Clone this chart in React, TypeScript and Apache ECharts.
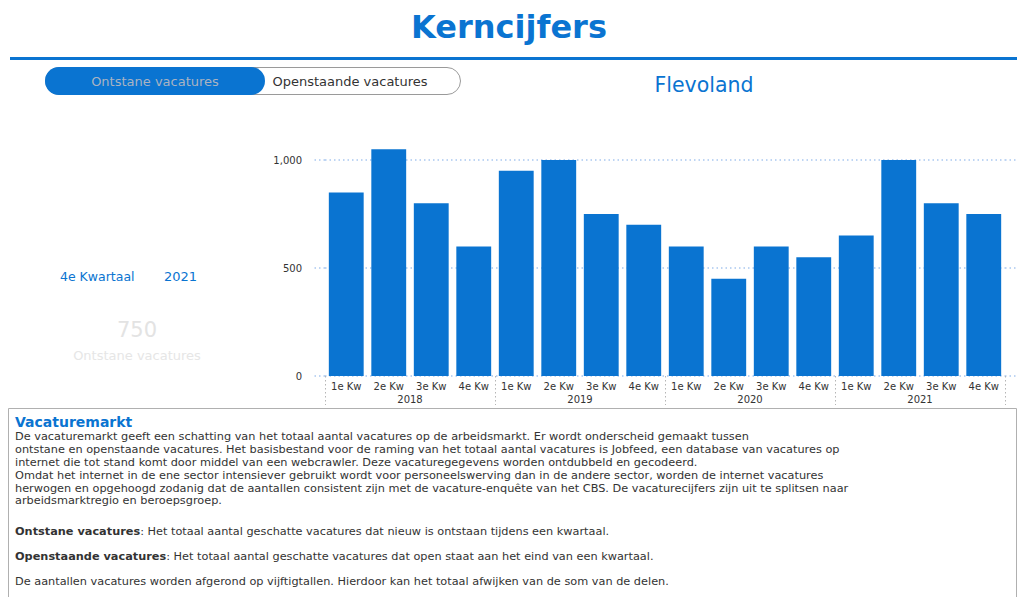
import React, { useEffect, useRef } from "react";
import * as echarts from "echarts";

const quarterLabels = [
  "1e Kw", "2e Kw", "3e Kw", "4e Kw",
  "1e Kw", "2e Kw", "3e Kw", "4e Kw",
  "1e Kw", "2e Kw", "3e Kw", "4e Kw",
  "1e Kw", "2e Kw", "3e Kw", "4e Kw",
];
const years = ["2018", "2019", "2020", "2021"];
const ontstaneVacatures = [850, 1050, 800, 600, 950, 1000, 750, 700, 600, 450, 600, 550, 650, 1000, 800, 750];
const yMin = 0;
const yMax = 1000;
const yInterval = 500;

const title = "Kerncijfers";
const region = "Flevoland";
const toggleLeft = "Ontstane vacatures";
const toggleRight = "Openstaande vacatures";
const periodLabel = "4e Kwartaal";
const periodYear = "2021";
const kpiValue = "750";
const kpiLabel = "Ontstane vacatures";
const infoHeading = "Vacaturemarkt";
const infoLines = [
  "De vacaturemarkt geeft een schatting van het totaal aantal vacatures op de arbeidsmarkt. Er wordt onderscheid gemaakt tussen",
  "ontstane en openstaande vacatures. Het basisbestand voor de raming van het totaal aantal vacatures is Jobfeed, een database van vacatures op",
  "internet die tot stand komt door middel van een webcrawler. Deze vacaturegegevens worden ontdubbeld en gecodeerd.",
  "Omdat het internet in de ene sector intensiever gebruikt wordt voor personeelswerving dan in de andere sector, worden de internet vacatures",
  "herwogen en opgehoogd zodanig dat de aantallen consistent zijn met de vacature-enquête van het CBS. De vacaturecijfers zijn uit te splitsen naar",
  "arbeidsmarktregio en beroepsgroep.",
];
const defOntstaan = ["Ontstane vacatures", ": Het totaal aantal geschatte vacatures dat nieuw is ontstaan tijdens een kwartaal."];
const defOpen = ["Openstaande vacatures", ": Het totaal aantal geschatte vacatures dat open staat aan het eind van een kwartaal."];
const noteLine = "De aantallen vacatures worden afgerond op vijftigtallen. Hierdoor kan het totaal afwijken van de som van de delen.";

const FONT = "DejaVu Sans";
const BLUE = "#0a74d1";
const GRIDC = "#a9c8ef";
const BODY = 11.3;

export default function App() {
  const ref = useRef<HTMLDivElement>(null);
  useEffect(() => {
    if (!ref.current) return;
    const chart = echarts.init(ref.current, null, { renderer: "svg" });
    const dotted = { type: [1.5, 3] as any, color: GRIDC, width: 1.5 };
    chart.setOption({
      animation: false,
      textStyle: { fontFamily: FONT },
      grid: { left: 325, right: 15, top: 160, bottom: 221 },
      xAxis: [
        {
          type: "category",
          data: quarterLabels,
          position: "bottom",
          axisLine: { show: false },
          axisTick: { show: false },
          axisLabel: { interval: 0, fontSize: 10, color: "#333", margin: 5, fontFamily: FONT },
          splitLine: { show: false },
        },
        {
          type: "category",
          data: years,
          position: "bottom",
          axisLine: { show: false },
          axisTick: {
            show: true,
            interval: 0,
            length: 29,
            lineStyle: { type: [1.5, 2.5], color: "#b5b5b5", width: 1 },
          },
          axisLabel: { interval: 0, fontSize: 10, color: "#333", margin: 18, fontFamily: FONT },
          splitLine: { show: false },
        },
      ],
      yAxis: [
        {
          type: "value",
          min: yMin,
          max: yMax,
          interval: yInterval,
          axisLine: { show: false },
          axisTick: { show: true, length: 13, lineStyle: dotted },
          splitLine: { show: true, lineStyle: dotted },
          axisLabel: { fontSize: 10, color: "#333", margin: 23, fontFamily: FONT },
        },
        {
          type: "value",
          position: "right",
          min: yMin,
          max: yMax,
          interval: yInterval,
          axisLine: { show: false },
          axisTick: { show: true, length: 12, lineStyle: dotted },
          splitLine: { show: false },
          axisLabel: { show: false },
        },
      ],
      series: [
        {
          type: "bar",
          data: ontstaneVacatures,
          xAxisIndex: 0,
          yAxisIndex: 0,
          barCategoryGap: "18%",
          clip: false,
          silent: true,
          itemStyle: { color: BLUE },
        },
      ],
      graphic: [
        {
          type: "text",
          x: 509,
          y: 27,
          style: {
            text: title,
            fontFamily: FONT,
            fontSize: 32,
            fontWeight: "bold",
            fill: BLUE,
            align: "center",
            verticalAlign: "middle",
          },
        },
        { type: "rect", shape: { x: 10, y: 57, width: 1007, height: 3 }, style: { fill: BLUE } },
        {
          type: "rect",
          shape: { x: 45.5, y: 67.5, width: 415, height: 27, r: 13.5 },
          style: { fill: "#fff", stroke: "#9a9a9a", lineWidth: 1 },
        },
        {
          type: "rect",
          shape: { x: 45, y: 67, width: 220, height: 28, r: 14 },
          style: { fill: BLUE },
        },
        {
          type: "text",
          x: 155,
          y: 81,
          style: {
            text: toggleLeft,
            fontFamily: FONT,
            fontSize: 13,
            fill: "#a9b3c2",
            align: "center",
            verticalAlign: "middle",
          },
        },
        {
          type: "text",
          x: 350,
          y: 81,
          style: {
            text: toggleRight,
            fontFamily: FONT,
            fontSize: 13,
            fill: "#333",
            align: "center",
            verticalAlign: "middle",
          },
        },
        {
          type: "text",
          x: 704,
          y: 85,
          style: {
            text: region,
            fontFamily: FONT,
            fontSize: 20.5,
            fill: BLUE,
            align: "center",
            verticalAlign: "middle",
          },
        },
        {
          type: "text",
          x: 60,
          y: 276,
          style: { text: periodLabel, fontFamily: FONT, fontSize: 12.5, fill: BLUE, verticalAlign: "middle" },
        },
        {
          type: "text",
          x: 164,
          y: 276,
          style: { text: periodYear, fontFamily: FONT, fontSize: 13, fill: BLUE, verticalAlign: "middle" },
        },
        {
          type: "text",
          x: 137,
          y: 330,
          style: {
            text: kpiValue,
            fontFamily: FONT,
            fontSize: 21,
            fill: "#e3e3e3",
            align: "center",
            verticalAlign: "middle",
          },
        },
        {
          type: "text",
          x: 137,
          y: 355,
          style: {
            text: kpiLabel,
            fontFamily: FONT,
            fontSize: 13,
            fill: "#e6e6e6",
            align: "center",
            verticalAlign: "middle",
          },
        },
        {
          type: "rect",
          shape: { x: 8.5, y: 408.5, width: 1008, height: 200 },
          style: { fill: "none", stroke: "#b0b0b0", lineWidth: 1 },
        },
        {
          type: "text",
          x: 15,
          y: 422,
          style: {
            text: infoHeading,
            fontFamily: FONT,
            fontSize: 14,
            fontWeight: "bold",
            fill: BLUE,
            verticalAlign: "middle",
          },
        },
        {
          type: "text",
          x: 15,
          y: 430.5,
          style: {
            text: infoLines.join("\n"),
            fontFamily: FONT,
            fontSize: BODY,
            lineHeight: 12.8,
            fill: "#333",
            verticalAlign: "top",
          },
        },
        {
          type: "text",
          x: 15,
          y: 531,
          style: {
            text: "{b|" + defOntstaan[0] + "}" + defOntstaan[1],
            fontFamily: FONT,
            fontSize: BODY,
            fill: "#333",
            verticalAlign: "middle",
            rich: { b: { fontFamily: FONT, fontSize: BODY, fontWeight: "bold", fill: "#333" } },
          },
        },
        {
          type: "text",
          x: 15,
          y: 556,
          style: {
            text: "{b|" + defOpen[0] + "}" + defOpen[1],
            fontFamily: FONT,
            fontSize: BODY,
            fill: "#333",
            verticalAlign: "middle",
            rich: { b: { fontFamily: FONT, fontSize: BODY, fontWeight: "bold", fill: "#333" } },
          },
        },
        {
          type: "text",
          x: 15,
          y: 581,
          style: { text: noteLine, fontFamily: FONT, fontSize: BODY, fill: "#333", verticalAlign: "middle" },
        },
      ],
    });
    return () => chart.dispose();
  }, []);
  return (
    <div
      ref={ref}
      style={{ position: "absolute", left: 0, top: 0, width: 1020, height: 597, background: "#fff" }}
    />
  );
}
